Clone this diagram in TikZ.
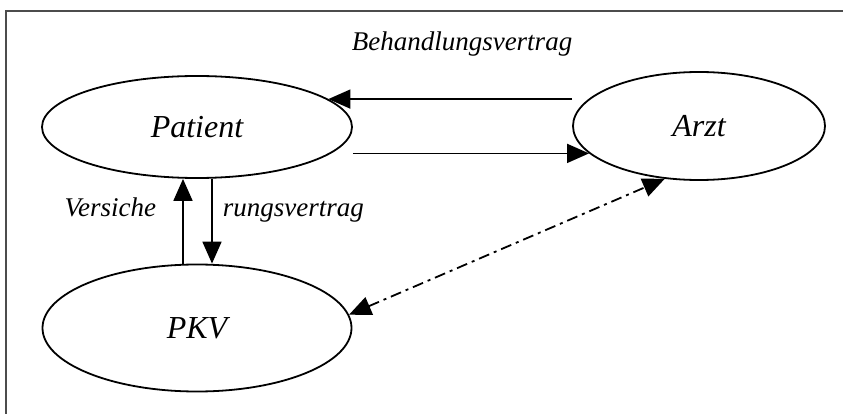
\documentclass[tikz,border=0pt]{standalone}
\usepackage{fontspec}
\newfontfamily\vertragfont{Liberation Serif}[ItalicFont={Liberation Serif Italic}]
\usetikzlibrary{arrows.meta,shapes.geometric,positioning}
\begin{document}
\begin{tikzpicture}[x=1pt,y=-1pt,>={Triangle[length=22pt,width=19pt]},line width=1.8pt,
    ovalnode/.style={ellipse, draw=black, inner sep=0pt, font=\vertragfont\fontsize{32}{38}\selectfont\itshape},
    vertraglabel/.style={inner sep=0pt, font=\vertragfont\fontsize{27}{32}\selectfont\itshape}]
  \useasboundingbox (0,0) rectangle (843,414);
  \draw[gray!60!black, line width=1.5pt] (6,414) -- (6,11) -- (843,11);

  \node[ovalnode, minimum width=310pt, minimum height=102pt] (P) at (197,127) {Patient};
  \node[ovalnode, minimum width=252pt, minimum height=108pt] (A) at (699,126) {Arzt};
  \node[ovalnode, minimum width=309pt, minimum height=127pt] (K) at (197,328) {PKV};

  \node[vertraglabel, anchor=base]      (BV) at (462,51)  {Behandlungsvertrag};
  \node[vertraglabel, anchor=base east] (V1) at (157,217) {Versiche};
  \node[vertraglabel, anchor=base west] (V2) at (222,217) {rungsvertrag};

  % Behandlungsvertrag
  \draw[->] (P.12 -| A.west) -- (P.12);
  \draw[->] (A.194 -| P.east) -- (A.194);
  % Versicherungsvertrag
  \draw[->] ([xshift=-14pt]P.south |- K.north) -- ([xshift=-14pt]P.south);
  \draw[->] ([xshift=15pt]P.south) -- ([xshift=15pt]P.south |- K.north);
  % PKV <-> Arzt
  \draw[<->, dash pattern=on 11pt off 5pt on 3pt off 5pt] (K.5) -- (A.237);
\end{tikzpicture}
\end{document}
